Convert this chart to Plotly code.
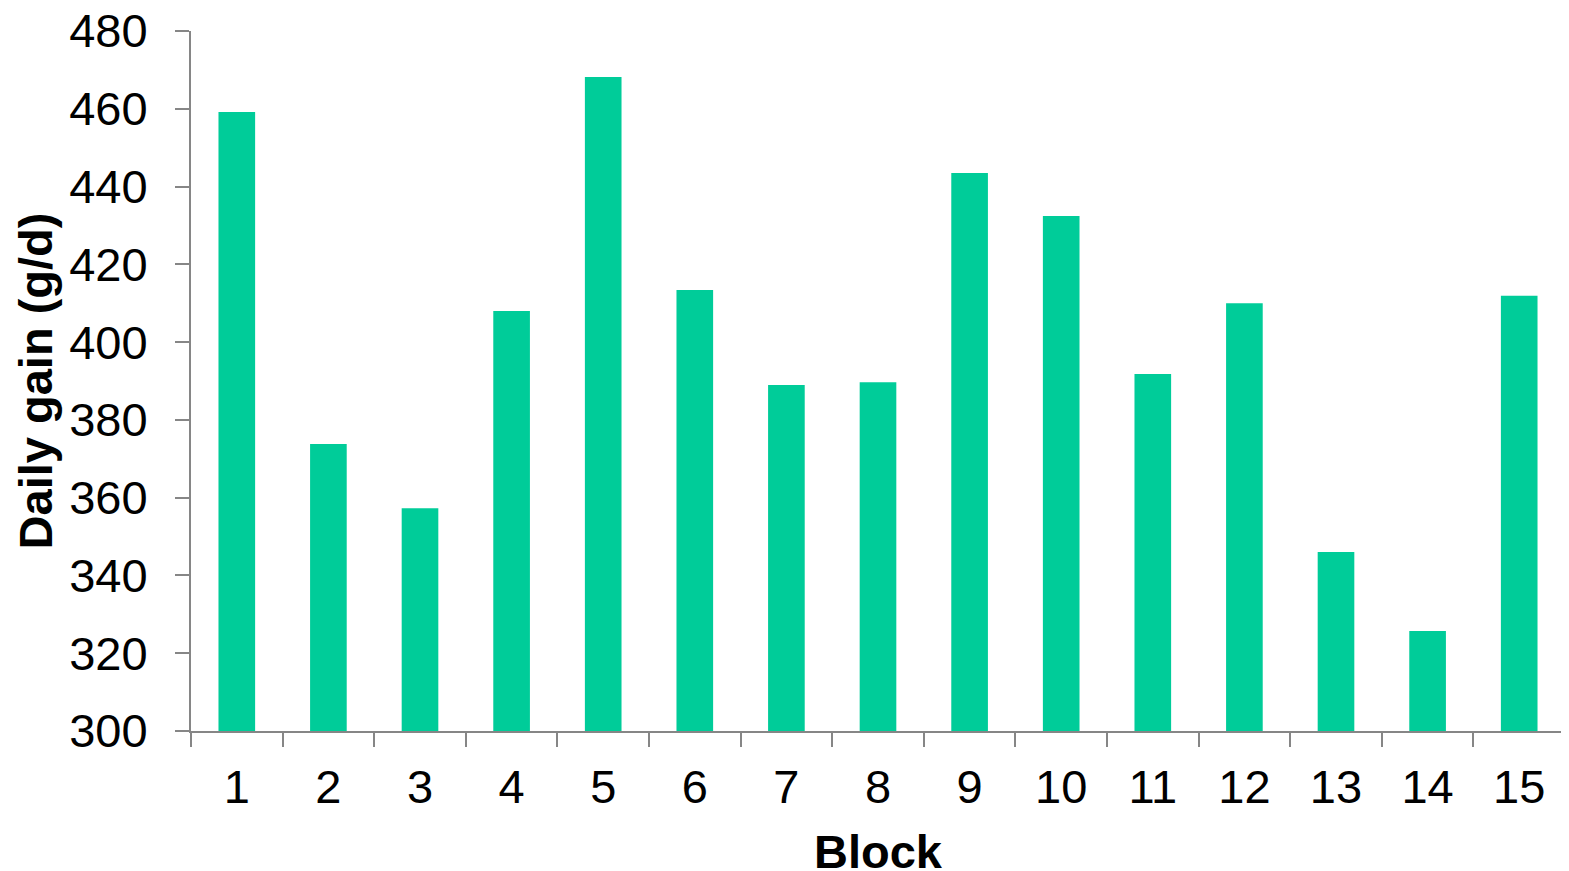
import plotly.graph_objects as go

blocks = [str(i) for i in range(1, 16)]
daily_gain = [459.2, 373.8, 357.3, 408.0, 468.2, 413.4, 389.0, 389.7, 443.5, 432.4, 391.8, 410.0, 346.0, 325.7, 411.9]
y_ticks = [300, 320, 340, 360, 380, 400, 420, 440, 460, 480]

fig = go.Figure(go.Bar(x=blocks, y=daily_gain, marker_color="#00CC99", marker_line_width=0))

font_family = "Liberation Sans, Arial, sans-serif"
# page body adds an 8px offset, so figure size/margins compensate
fig.update_layout(
    width=1561, height=863,
    margin=dict(l=183, r=4, t=23, b=140, autoexpand=False),
    plot_bgcolor="white", paper_bgcolor="white",
    bargap=0.6,
    showlegend=False,
    font=dict(family=font_family, color="black", size=47),
)
fig.update_xaxes(
    type="category",
    automargin=False,
    showline=True, linecolor="#868686", linewidth=2,
    ticks="outside", ticklen=14, tickwidth=2, tickcolor="#868686",
    tickson="boundaries",
    ticklabelstandoff=14,
    ticklabeloverflow="allow",
    showgrid=False,
    tickfont=dict(size=47),
)
fig.update_yaxes(
    range=[300, 480],
    automargin=False,
    tickvals=y_ticks,
    showline=True, linecolor="#868686", linewidth=2,
    ticks="outside", ticklen=14, tickwidth=2, tickcolor="#868686",
    ticklabelstandoff=18,
    ticklabeloverflow="allow",
    showgrid=False, zeroline=False,
    tickfont=dict(size=47),
    title=dict(text="<b>Daily gain (g/d)</b>", font=dict(size=47), standoff=2),
)
fig.add_annotation(
    text="<b>Block</b>", xref="paper", yref="paper", x=0.5, y=-0.172,
    xanchor="center", yanchor="middle", showarrow=False,
    font=dict(size=47, family=font_family, color="black"),
)

fig.write_html("out.html")
